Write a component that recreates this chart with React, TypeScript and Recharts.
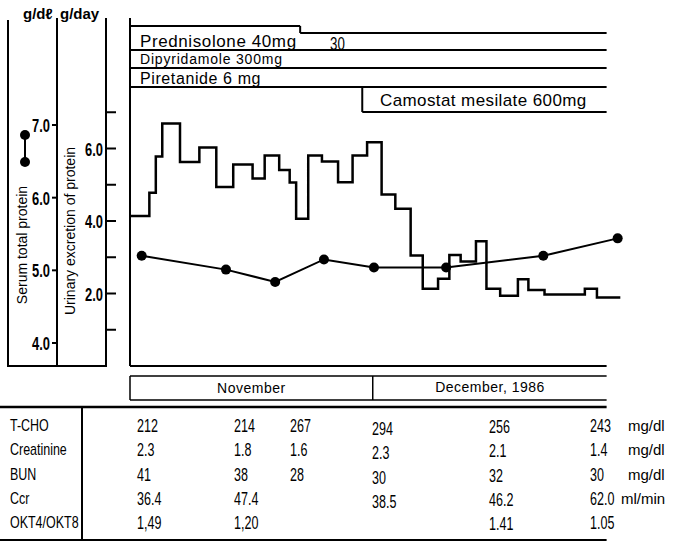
import React from 'react';
import { ComposedChart, Line, XAxis, YAxis, ReferenceLine } from 'recharts';

// urinary excretion of protein, g/day (step series, x = day of record)
const urineDays = [0, 2.4, 3.2, 4.0, 6.2, 8.6, 10.7, 12.8, 15.2, 16.7, 18.5, 19.8, 20.6, 22.1, 23.8, 25.8, 27.6, 29.4, 31.2, 32.9, 34.8, 36.3, 38.2, 39.6, 41.0, 42.9, 44.2, 45.9, 48.1, 49.4, 51.4, 56.4, 57.9, 60.8];
const urineValues = [4.14, 4.78, 5.78, 6.69, 5.63, 6.03, 4.94, 5.56, 5.17, 5.81, 5.41, 5.06, 4.06, 5.81, 5.64, 5.07, 5.81, 6.17, 4.73, 4.34, 3.05, 2.13, 2.41, 3.06, 2.88, 3.44, 2.13, 1.94, 2.39, 2.10, 1.97, 2.13, 1.89, 1.89];

// serum total protein, g/dl
const serumDays = [1.45, 11.9, 18.0, 24.05, 30.25, 39.2, 51.25, 60.47];
const serumValues = [5.20, 5.01, 4.84, 5.15, 5.04, 5.04, 5.20, 5.44];

const urineTicks = [1, 2, 3, 4, 5, 6, 7];
const serumTicks = [4, 5, 6, 7];

// medication schedule (days)
const predStepDay = 21.1;
const camostatStart = 28.8;
const recordEnd = 59.1;
const monthBreak = 30.1;

// lab table
const rowLabels = ['T-CHO', 'Creatinine', 'BUN', 'Ccr', 'OKT4/OKT8'];
const rowUnits = ['mg/dl', 'mg/dl', 'mg/dl', 'ml/min', ''];
const tcho = ['212', '214', '267', '294', '256', '243'];
const creatinine = ['2.3', '1.8', '1.6', '2.3', '2.1', '1.4'];
const bun = ['41', '38', '28', '30', '32', '30'];
const ccr = ['36.4', '47.4', '', '38.5', '46.2', '62.0'];
const okt = ['1,49', '1,20', '', '', '1.41', '1.05'];
const tableRows = [tcho, creatinine, bun, ccr, okt];

const W = 686;
const H = 543;
const CH = 380;
const PLOT_LEFT = 130;
const PLOT_RIGHT = 630;
const PLOT_TOP = 18;
const PLOT_BOTTOM = 366;
const X_MAX = 62;
const dayPx = (d: number) => PLOT_LEFT + (d * (PLOT_RIGHT - PLOT_LEFT)) / X_MAX;

// schedule row lines, in px below plot top
const ROW = { predTop: 8, predLow: 15, predBottom: 32, dipyBottom: 50, piretBottom: 69, camBottom: 94 };

const SANS = '"Liberation Sans", Arial, sans-serif';

const urineData = urineDays.map((d, i) => ({ d, v: urineValues[i] }));
const serumData = serumDays.map((d, i) => ({ d, v: serumValues[i] }));

// condensed text (no narrow face installed, so squeeze horizontally)
const NText = ({ x, y, size, sx = 0.8, anchor = 'start', weight = 400, children }: any) => (
  <text
    transform={`translate(${x},${y}) scale(${sx},1)`}
    fontSize={size}
    fontFamily={SANS}
    fontWeight={weight}
    textAnchor={anchor}
    dominantBaseline="central"
    fill="#000"
  >
    {children}
  </text>
);

const UrineTick = (props: any) => {
  const { x, y, payload } = props;
  const v = payload.value as number;
  return (
    <g>
      <line x1={x} x2={x + 10} y1={y} y2={y} stroke="#000" strokeWidth={2} />
      {v % 2 === 0 && <NText x={x - 3} y={y} size={19} sx={0.68} weight={700} anchor="end">{v.toFixed(1)}</NText>}
    </g>
  );
};

const SerumTick = (props: any) => {
  const { x, y, payload } = props;
  return <NText x={x} y={y} size={19} sx={0.68} weight={700} anchor="end">{(payload.value as number).toFixed(1)}</NText>;
};

const seg = (x1: number, y1: number, x2: number, y2: number, key: string) => (
  <ReferenceLine
    key={key}
    yAxisId="a_frame"
    segment={[{ x: x1, y: y1 }, { x: x2, y: y2 }]}
    stroke="#000"
    strokeWidth={2}
    ifOverflow="visible"
  />
);

const colX = [137, 234, 290, 372, 489, 590];
const colDy = [0, 0, 0, 3, 1, 0];
const rowY = [425, 449, 474, 498, 522];

export default function App() {
  const axisLine = { stroke: '#000', strokeWidth: 2 };
  return (
    <div style={{ position: 'absolute', left: 0, top: 0, width: W, height: H, background: '#fff' }}>
      <ComposedChart
        width={W}
        height={CH}
        margin={{ top: PLOT_TOP, right: W - PLOT_RIGHT, bottom: CH - PLOT_BOTTOM, left: 0 }}
      >
        <XAxis type="number" dataKey="d" domain={[0, X_MAX]} hide allowDataOverflow />
        <YAxis yAxisId="a_frame" width={24} domain={[0, PLOT_BOTTOM - PLOT_TOP]} reversed tick={false} tickLine={false} axisLine={axisLine} allowDataOverflow />
        <YAxis
          yAxisId="b_urine"
          width={49}
          domain={[0, 9.6]}
          ticks={urineTicks}
          tick={(p: any) => <UrineTick {...p} />}
          tickLine={false}
          tickSize={0}
          tickMargin={0}
          axisLine={axisLine}
          allowDataOverflow
        />
        <YAxis
          yAxisId="c_serum"
          width={57}
          domain={[3.6835, 8.4724]}
          ticks={serumTicks}
          tickSize={5}
          tickMargin={2}
          tick={(p: any) => <SerumTick {...p} />}
          tickLine={axisLine}
          axisLine={axisLine}
          allowDataOverflow
        />
        {seg(0, ROW.predTop, predStepDay, ROW.predTop, 'p1')}
        {seg(predStepDay, ROW.predTop, predStepDay, ROW.predLow, 'p2')}
        {seg(predStepDay, ROW.predLow, recordEnd, ROW.predLow, 'p3')}
        {seg(0, ROW.predBottom, recordEnd, ROW.predBottom, 'p4')}
        {seg(0, ROW.dipyBottom, recordEnd, ROW.dipyBottom, 'd1')}
        {seg(0, ROW.piretBottom, recordEnd, ROW.piretBottom, 'r1')}
        {seg(camostatStart, ROW.piretBottom, camostatStart, ROW.camBottom, 'c1')}
        {seg(camostatStart, ROW.camBottom, recordEnd, ROW.camBottom, 'c2')}
        <ReferenceLine yAxisId="b_urine" segment={[{ x: 0, y: 0 }, { x: recordEnd, y: 0 }]} stroke="#000" strokeWidth={2} ifOverflow="visible" />
        <Line yAxisId="b_urine" data={urineData} dataKey="v" type="stepAfter" stroke="#000" strokeWidth={2.5} dot={false} isAnimationActive={false} />
        <Line yAxisId="c_serum" data={serumData} dataKey="v" type="linear" stroke="#000" strokeWidth={2} dot={{ r: 5, fill: '#000', stroke: '#000', strokeWidth: 0 }} isAnimationActive={false} />
      </ComposedChart>

      <svg width={W} height={H} style={{ position: 'absolute', left: 0, top: 0, pointerEvents: 'none' }}>
        <g fontFamily={SANS} fill="#000">
          <text x={23} y={13} fontSize={15} fontWeight={700} dominantBaseline="central">g/dℓ</text>
          <text x={60} y={13} fontSize={15} fontWeight={700} dominantBaseline="central">g/day</text>
          <text x={140} y={41} fontSize={17} dominantBaseline="central" letterSpacing={0.6}>Prednisolone 40mg</text>
          <text x={140} y={59} fontSize={14} dominantBaseline="central" letterSpacing={0.8}>Dipyridamole 300mg</text>
          <text x={140} y={78} fontSize={16} dominantBaseline="central" letterSpacing={0.6}>Piretanide  6 mg</text>
          <text x={380} y={100} fontSize={17} dominantBaseline="central" letterSpacing={0.4}>Camostat mesilate 600mg</text>
          <text transform="translate(22,245) rotate(-90)" fontSize={14} textAnchor="middle" dominantBaseline="central">Serum total protein</text>
          <text transform="translate(70,231) rotate(-90)" fontSize={14} textAnchor="middle" dominantBaseline="central">Urinary excretion of protein</text>
        </g>
        <NText x={330} y={43} size={19} sx={0.7}>30</NText>
        <line x1={8} x2={8} y1={20} y2={367} stroke="#000" strokeWidth={2} />
        <line x1={7} x2={107} y1={366} y2={366} stroke="#000" strokeWidth={2} />
        <line x1={25} x2={25} y1={135} y2={162} stroke="#000" strokeWidth={2} />
        <circle cx={25} cy={135} r={5} fill="#000" />
        <circle cx={25} cy={162} r={5} fill="#000" />

        <line x1={PLOT_LEFT} x2={dayPx(recordEnd)} y1={376} y2={376} stroke="#000" strokeWidth={1.5} />
        <line x1={PLOT_LEFT} x2={dayPx(recordEnd)} y1={400} y2={400} stroke="#000" strokeWidth={1.5} />
        <line x1={PLOT_LEFT} x2={PLOT_LEFT} y1={376} y2={400} stroke="#000" strokeWidth={1.5} />
        <line x1={dayPx(monthBreak)} x2={dayPx(monthBreak)} y1={376} y2={400} stroke="#000" strokeWidth={1.5} />
        <g fontFamily={SANS} fontSize={14} fill="#000" textAnchor="middle" letterSpacing={0.5}>
          <text x={(PLOT_LEFT + dayPx(monthBreak)) / 2} y={388} dominantBaseline="central">November</text>
          <text x={490} y={387} dominantBaseline="central">December, 1986</text>
        </g>

        <line x1={0} x2={dayPx(recordEnd)} y1={407} y2={407} stroke="#000" strokeWidth={2.5} />
        <line x1={82} x2={82} y1={407} y2={541} stroke="#000" strokeWidth={2} />
        <line x1={0} x2={dayPx(recordEnd)} y1={540} y2={540} stroke="#000" strokeWidth={2} />
        {rowLabels.map((l, i) => (
          <NText key={l} x={10} y={rowY[i]} size={16} sx={0.78}>{l}</NText>
        ))}
        {tableRows.map((row, i) =>
          row.map((v, j) => (
            <NText key={`${i}-${j}`} x={colX[j]} y={rowY[i] + colDy[j]} size={19} sx={0.66}>{v}</NText>
          ))
        )}
        {rowUnits.map((u, i) => (
          <text key={`u${i}`} x={i === 3 ? 621 : 628} y={rowY[i]} fontSize={15} fontFamily={SANS} dominantBaseline="central">{u}</text>
        ))}
      </svg>
    </div>
  );
}
